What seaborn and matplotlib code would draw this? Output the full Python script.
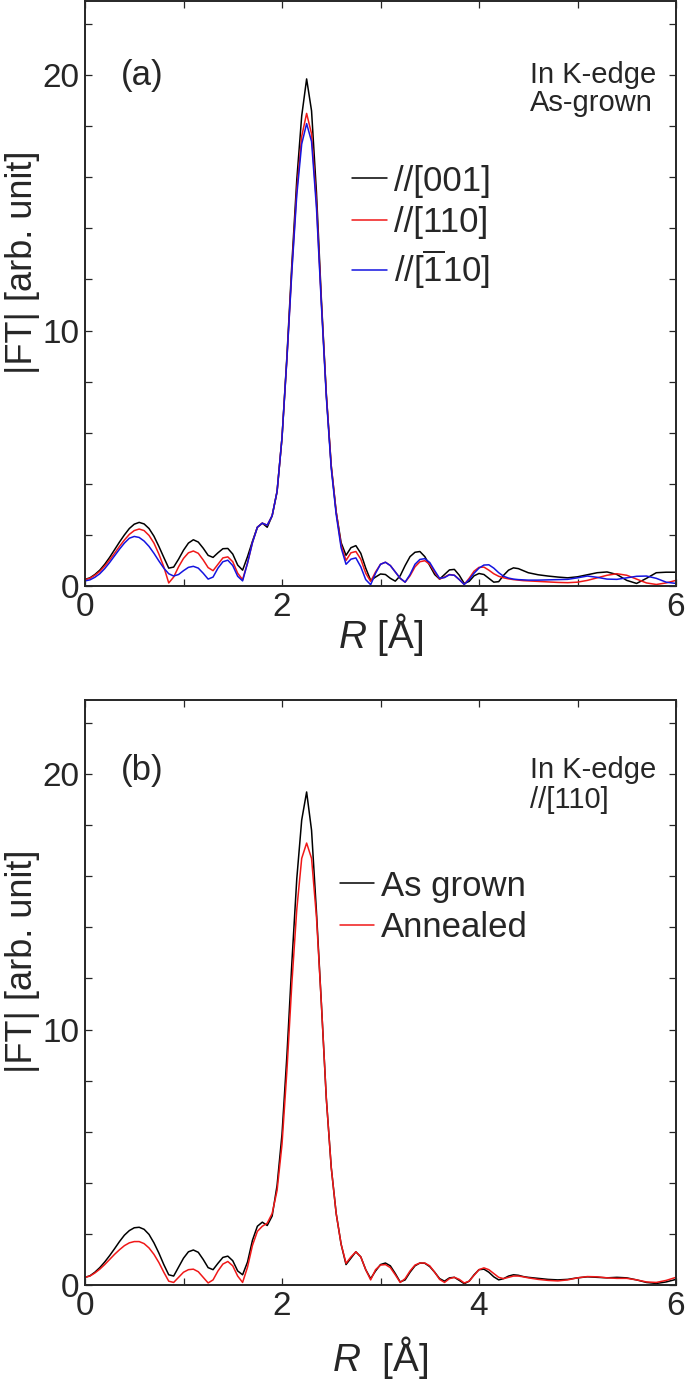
import matplotlib
matplotlib.use("Agg")
import matplotlib.pyplot as plt
from matplotlib.ticker import MultipleLocator
import pandas as pd
import seaborn as sns

# -------------------------------
# Data (R in Angstrom, |FT| in arb. unit)
# -------------------------------
r_grid = [0.00, 0.05, 0.10, 0.15, 0.20, 0.25, 0.30, 0.35, 0.40, 0.45,
          0.50, 0.55, 0.60, 0.65, 0.70, 0.75, 0.80, 0.85, 0.90, 0.95,
          1.00, 1.05, 1.10, 1.15, 1.20, 1.25, 1.30, 1.35, 1.40, 1.45,
          1.50, 1.55, 1.60, 1.65, 1.70, 1.75, 1.80, 1.85, 1.90, 1.95,
          2.00, 2.05, 2.10, 2.15, 2.20, 2.25, 2.30, 2.35, 2.40, 2.45,
          2.50, 2.55, 2.60, 2.65, 2.70, 2.75, 2.80, 2.85, 2.90, 2.95,
          3.00, 3.05, 3.10, 3.15, 3.20, 3.25, 3.30, 3.35, 3.40, 3.45,
          3.50, 3.55, 3.60, 3.65, 3.70, 3.75, 3.80, 3.85, 3.90, 3.95,
          4.00, 4.05, 4.10, 4.15, 4.20, 4.25, 4.30, 4.35, 4.40, 4.45,
          4.50,
          4.6, 4.7, 4.8, 4.9, 5.0, 5.1, 5.2, 5.3, 5.4, 5.5, 5.6, 5.7, 5.8, 5.9, 6.0]

# (a) In K-edge, as-grown
a_001 = [0.26, 0.32, 0.45, 0.62, 0.85, 1.12, 1.42, 1.72, 2.00, 2.25,
         2.42, 2.49, 2.43, 2.25, 1.95, 1.55, 1.12, 0.70, 0.74, 1.05,
         1.40, 1.68, 1.81, 1.72, 1.48, 1.20, 1.12, 1.30, 1.46, 1.47,
         1.25, 0.82, 0.62, 1.15, 1.75, 2.30, 2.46, 2.30, 2.75, 3.70,
         5.8, 9.0, 12.6, 15.9, 18.4, 19.85, 18.6, 15.4, 11.2, 7.5,
         4.7, 2.9, 1.7, 1.2, 1.5, 1.58, 1.28, 0.70, 0.22, 0.35,
         0.47, 0.45, 0.30, 0.19, 0.40, 0.80, 1.15, 1.32, 1.35, 1.15,
         0.80, 0.45, 0.27, 0.45, 0.63, 0.65, 0.42, 0.10, 0.18, 0.40,
         0.49, 0.45, 0.30, 0.15, 0.17, 0.42, 0.62, 0.71, 0.68, 0.60,
         0.52,
         0.44, 0.39, 0.35, 0.32, 0.36, 0.44, 0.52, 0.55, 0.45, 0.22, 0.10, 0.30, 0.52, 0.54, 0.54]
a_110 = [0.25, 0.30, 0.42, 0.57, 0.78, 1.02, 1.28, 1.55, 1.80, 2.02,
         2.17, 2.23, 2.17, 1.98, 1.68, 1.25, 0.75, 0.12, 0.35, 0.75,
         1.08, 1.30, 1.37, 1.28, 1.02, 0.72, 0.60, 0.85, 1.10, 1.14,
         0.95, 0.50, 0.25, 0.90, 1.70, 2.30, 2.46, 2.38, 2.75, 3.70,
         5.8, 8.9, 12.4, 15.5, 17.6, 18.5, 17.7, 15.0, 11.1, 7.5,
         4.7, 2.9, 1.6, 1.0, 1.3, 1.35, 1.05, 0.50, 0.18, 0.55,
         0.85, 0.93, 0.80, 0.55, 0.30, 0.15, 0.40, 0.75, 0.95, 0.99,
         0.85, 0.55, 0.27, 0.35, 0.45, 0.42, 0.25, 0.06, 0.30, 0.58,
         0.73, 0.74, 0.62, 0.48, 0.38, 0.32, 0.28, 0.25, 0.23, 0.21,
         0.20,
         0.18, 0.16, 0.14, 0.13, 0.15, 0.22, 0.32, 0.42, 0.48, 0.42, 0.27, 0.12, 0.06, 0.12, 0.22]
a_m110 = [0.20, 0.24, 0.34, 0.48, 0.68, 0.92, 1.18, 1.44, 1.68, 1.87,
          1.94, 1.90, 1.76, 1.55, 1.28, 0.98, 0.70, 0.48, 0.39, 0.45,
          0.60, 0.73, 0.77, 0.70, 0.50, 0.27, 0.35, 0.70, 0.95, 1.01,
          0.80, 0.38, 0.20, 0.90, 1.70, 2.30, 2.46, 2.38, 2.75, 3.70,
          5.8, 8.9, 12.3, 15.3, 17.3, 18.1, 17.4, 14.8, 11.0, 7.4,
          4.6, 2.8, 1.5, 0.85, 1.05, 1.10, 0.75, 0.25, 0.05, 0.50,
          0.85, 0.93, 0.80, 0.55, 0.30, 0.15, 0.45, 0.85, 1.04, 1.07,
          0.92, 0.60, 0.30, 0.33, 0.44, 0.42, 0.25, 0.06, 0.25, 0.50,
          0.70, 0.82, 0.83, 0.70, 0.52, 0.38, 0.31, 0.27, 0.25, 0.24,
          0.23,
          0.23, 0.24, 0.25, 0.26, 0.32, 0.39, 0.34, 0.27, 0.26, 0.32, 0.38, 0.39, 0.30, 0.15, 0.10]

# (b) In K-edge, //[110]
b_grown = [0.30, 0.36, 0.50, 0.68, 0.90, 1.15, 1.42, 1.70, 1.95, 2.13,
           2.24, 2.26, 2.18, 1.98, 1.65, 1.25, 0.80, 0.40, 0.35, 0.70,
           1.05, 1.30, 1.37, 1.28, 1.00, 0.68, 0.60, 0.85, 1.08, 1.13,
           0.95, 0.55, 0.40, 0.90, 1.75, 2.30, 2.46, 2.33, 2.70, 3.90,
           5.9, 9.0, 12.6, 15.9, 18.2, 19.3, 17.8, 14.6, 11.0, 7.3,
           4.6, 2.8, 1.6, 0.80, 1.05, 1.30, 1.10, 0.60, 0.25, 0.55,
           0.80, 0.86, 0.75, 0.45, 0.12, 0.20, 0.50, 0.75, 0.86, 0.85,
           0.72, 0.50, 0.25, 0.15, 0.28, 0.30, 0.18, 0.05, 0.15, 0.40,
           0.60, 0.62, 0.50, 0.32, 0.20, 0.25, 0.35, 0.40, 0.38, 0.33,
           0.30,
           0.26, 0.22, 0.20, 0.22, 0.28, 0.32, 0.30, 0.28, 0.30, 0.28, 0.20, 0.10, 0.06, 0.12, 0.22]
b_annealed = [0.30, 0.35, 0.47, 0.62, 0.80, 1.00, 1.20, 1.38, 1.54, 1.65,
              1.70, 1.70, 1.62, 1.45, 1.20, 0.88, 0.50, 0.15, 0.10, 0.30,
              0.50, 0.60, 0.62, 0.52, 0.30, 0.08, 0.20, 0.55, 0.82, 0.92,
              0.75, 0.35, 0.10, 0.70, 1.55, 2.10, 2.30, 2.42, 2.80, 3.70,
              5.5, 8.4, 11.8, 14.7, 16.7, 17.3, 16.7, 14.4, 11.0, 7.3,
              4.6, 2.8, 1.6, 0.85, 1.10, 1.30, 1.10, 0.60, 0.20, 0.60,
              0.78, 0.80, 0.68, 0.40, 0.10, 0.25, 0.55, 0.78, 0.86, 0.86,
              0.75, 0.50, 0.22, 0.10, 0.25, 0.30, 0.22, 0.08, 0.15, 0.38,
              0.60, 0.67, 0.60, 0.45, 0.30, 0.25, 0.30, 0.35, 0.35, 0.32,
              0.28,
              0.22, 0.18, 0.16, 0.20, 0.28, 0.33, 0.32, 0.28, 0.26, 0.26, 0.20, 0.12, 0.10, 0.18, 0.30]

labels_a = ["//[001]", "//[110]", r"//[$\overline{1}$10]"]
labels_b = ["As grown", "Annealed"]
colors_a = ["black", "#f01818", "#1414e0"]
colors_b = ["black", "#f01818"]

for s in [a_001, a_110, a_m110, b_grown, b_annealed]:
    assert len(s) == len(r_grid)

# -------------------------------
# Style
# -------------------------------
sns.set_style("ticks")
plt.rcParams["font.family"] = ["Liberation Sans", "DejaVu Sans"]
plt.rcParams["mathtext.fontset"] = "custom"
plt.rcParams["mathtext.rm"] = "Liberation Sans"
plt.rcParams["mathtext.it"] = "Liberation Sans:italic"

W, H = 685, 1384
fig = plt.figure(figsize=(W / 100, H / 100), dpi=100)
ax_a = fig.add_axes([85 / W, 1 - 586 / H, 591 / W, 585 / H])
ax_b = fig.add_axes([85 / W, 1 - 1285 / H, 591 / W, 585 / H])

df_a = pd.DataFrame({
    "R": r_grid * 3,
    "FT": a_001 + a_110 + a_m110,
    "dir": [labels_a[0]] * len(r_grid) + [labels_a[1]] * len(r_grid) + [labels_a[2]] * len(r_grid),
})
df_b = pd.DataFrame({
    "R": r_grid * 2,
    "FT": b_grown + b_annealed,
    "sample": [labels_b[0]] * len(r_grid) + [labels_b[1]] * len(r_grid),
})

sns.lineplot(data=df_a, x="R", y="FT", hue="dir", hue_order=labels_a,
             palette=colors_a, estimator=None, sort=False, lw=1.1, ax=ax_a)
sns.lineplot(data=df_b, x="R", y="FT", hue="sample", hue_order=labels_b,
             palette=colors_b, estimator=None, sort=False, lw=1.1, ax=ax_b)

for ax in [ax_a, ax_b]:
    ax.set_xlim(0, 6)
    ax.set_ylim(0, 22.9)
    ax.xaxis.set_major_locator(MultipleLocator(2))
    ax.xaxis.set_minor_locator(MultipleLocator(1))
    ax.yaxis.set_major_locator(MultipleLocator(10))
    ax.yaxis.set_minor_locator(MultipleLocator(2))
    ax.tick_params(which="both", direction="in", top=True, right=True,
                   length=5, width=0.9, labelsize=24, pad=4)
    ax.set_ylabel("|FT| [arb. unit]", fontsize=26)
    ax.yaxis.set_label_coords(-0.076, 0.553)
    for sp in ax.spines.values():
        sp.set_linewidth(1.4)

ax_a.set_xlabel("$R$ [Å]", fontsize=28, labelpad=-8)
ax_b.set_xlabel("$R$  [Å]", fontsize=28, labelpad=9)

# panel texts
ax_a.text(0.06, 0.8735, "(a)", transform=ax_a.transAxes, fontsize=25, va="center")
ax_a.text(0.753, 0.8735, "In K-edge", transform=ax_a.transAxes, fontsize=21, va="center")
ax_a.text(0.753, 0.8256, "As-grown", transform=ax_a.transAxes, fontsize=21, va="center")
ax_b.text(0.06, 0.880, "(b)", transform=ax_b.transAxes, fontsize=25, va="center")
ax_b.text(0.753, 0.880, "In K-edge", transform=ax_b.transAxes, fontsize=21, va="center")
ax_b.text(0.753, 0.829, "//[110]", transform=ax_b.transAxes, fontsize=21, va="center")

h, l = ax_a.get_legend_handles_labels()
ax_a.legend(h, l, loc="upper left", bbox_to_anchor=(0.452, 0.7205), frameon=False,
            fontsize=25, handlelength=1.0, handletextpad=0.2, labelspacing=0.25,
            borderpad=0, borderaxespad=0)
h, l = ax_b.get_legend_handles_labels()
ax_b.legend(h, l, loc="upper left", bbox_to_anchor=(0.431, 0.71), frameon=False,
            fontsize=25, handlelength=1.0, handletextpad=0.2, labelspacing=0.25,
            borderpad=0, borderaxespad=0)

fig.savefig("out.png", dpi=100)
